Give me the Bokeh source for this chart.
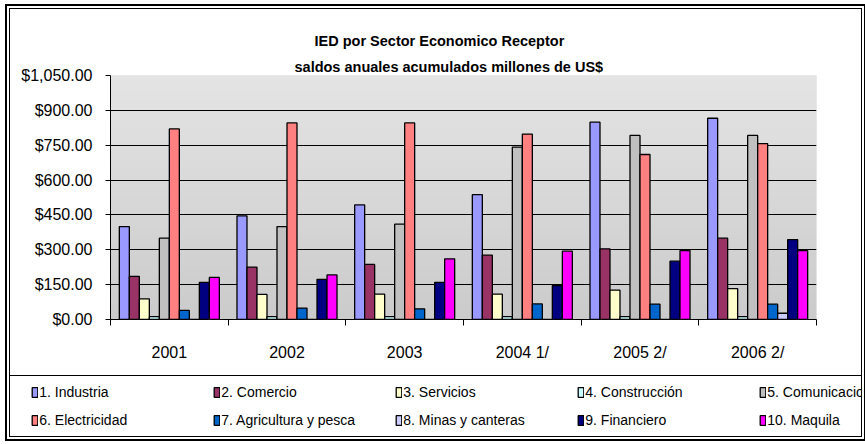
import numpy as np
from bokeh.plotting import figure
from bokeh.layouts import column
from bokeh.models import (ColumnDataSource, Range1d, FixedTicker, NumeralTickFormatter,
                          Grid, Legend, LegendItem, Title)
from bokeh.embed import file_html
from bokeh.resources import INLINE

years = ["2001", "2002", "2003", "2004 1/", "2005 2/", "2006 2/"]
sectors = ["1. Industria", "2. Comercio", "3. Servicios", "4. Construcción",
           "5. Comunicaciones", "6. Electricidad", "7. Agricultura y pesca",
           "8. Minas y canteras", "9. Financiero", "10. Maquila"]
colors = ["#9999FF", "#993366", "#FFFFCC", "#CCFFFF", "#C0C0C0",
          "#FF8080", "#0066CC", "#CCCCFF", "#000080", "#FF00FF"]

industria = [400, 446, 493, 537, 849, 866]
comercio = [186, 225, 237, 277, 304, 350]
servicios = [89, 108, 109, 109, 126, 133]
construccion = [12, 12, 12, 12, 12, 12]
comunicaciones = [350, 400, 410, 742, 792, 792]
electricidad = [820, 846, 846, 798, 710, 757]
agricultura = [39, 49, 46, 67, 66, 66]
minas = [0, 0, 0, 0, 0, 27]
financiero = [160, 173, 160, 146, 251, 344]
maquila = [181, 192, 261, 294, 297, 297]

y_ticks = [0, 150, 300, 450, 600, 750, 900, 1050]
title1 = "IED por Sector Economico Receptor"
title2 = "saldos anuales acumulados millones de US$"

series = [industria, comercio, servicios, construccion, comunicaciones,
          electricidad, agricultura, minas, financiero, maquila]

FONT = "Liberation Sans"
W, H1, H2 = 851, 366, 61
ymax = y_ticks[-1]
ng = len(years)

p = figure(width=W, height=H1, output_backend="svg", toolbar_location=None,
           x_range=Range1d(0, ng), y_range=Range1d(0, ymax),
           min_border_left=100, min_border_right=45, min_border_top=66,
           min_border_bottom=56)
p.title.visible = False
p.outline_line_color = None
p.border_fill_color = None
p.background_fill_color = "#D8D8D8"

# gradient plot-area background
n = 128
grad = np.zeros((n, 1), dtype=np.uint32)
view = grad.view(dtype=np.uint8).reshape((n, 1, 4))
for k in range(n):
    t = k / (n - 1)
    c = int(round(0xCB + (0xE4 - 0xCB) * t))
    view[k, 0, :] = [c, c, c, 255]
p.image_rgba(image=[grad], x=0, y=0, dw=ng, dh=ymax, level="image")

# legend strip figure
leg = figure(width=W, height=H2, output_backend="svg", toolbar_location=None,
             x_range=Range1d(0, ng), y_range=Range1d(0, ymax),
             x_axis_location=None, y_axis_location=None, min_border=0)
leg.frame_align = False
leg.title.visible = False
leg.outline_line_color = None
leg.border_fill_color = None
leg.background_fill_color = None
leg.xgrid.visible = False
leg.ygrid.visible = False

bw = 0.085
items = []
for j, (name, vals, col) in enumerate(zip(sectors, series, colors)):
    xs = [i + 0.5 + (j - (len(sectors) - 1) / 2) * bw for i in range(ng)]
    src = ColumnDataSource(dict(x=xs, top=vals))
    p.vbar(x="x", top="top", bottom=0, width=bw, source=src,
           fill_color=col, line_color="black", line_width=1.3)
    lr = leg.vbar(x="x", top="top", bottom=0, width=bw, source=src,
                  fill_color=col, line_color="black", line_width=1.3,
                  visible=False)
    items.append(LegendItem(label=name, renderers=[lr]))

# x axis
p.xaxis.ticker = FixedTicker(ticks=[i + 0.5 for i in range(ng)],
                             minor_ticks=list(range(ng + 1)))
p.xaxis.major_label_overrides = {i + 0.5: y for i, y in enumerate(years)}
p.xaxis.major_tick_line_color = None
p.xaxis.major_tick_out = 0
p.xaxis.major_tick_in = 0
p.xaxis.minor_tick_out = 6
p.xaxis.minor_tick_in = 0
p.xaxis.minor_tick_line_color = "black"
p.xaxis.axis_line_color = "black"
p.xaxis.major_label_standoff = 18
p.xaxis.major_label_text_font = FONT
p.xaxis.major_label_text_font_size = "16px"
p.xaxis.major_label_text_font_style = "normal"
p.xaxis.major_label_text_color = "black"
p.xgrid.visible = False

# y axis
p.yaxis.ticker = FixedTicker(ticks=y_ticks)
p.yaxis.formatter = NumeralTickFormatter(format="$0,0.00")
p.yaxis.major_tick_out = 5
p.yaxis.major_tick_in = 0
p.yaxis.major_tick_line_color = "black"
p.yaxis.minor_tick_line_color = None
p.yaxis.axis_line_color = "black"
p.yaxis.major_label_standoff = 13
p.yaxis.major_label_text_font = FONT
p.yaxis.major_label_text_font_size = "16px"
p.yaxis.major_label_text_color = "black"
p.ygrid.ticker = FixedTicker(ticks=y_ticks[1:-1])
p.ygrid.grid_line_color = "black"
p.ygrid.grid_line_width = 1
p.add_layout(Grid(dimension=1, ticker=FixedTicker(ticks=[ymax]),
                  grid_line_color="#808080", grid_line_width=1))

# titles (added nearest-first)
p.add_layout(Title(text=title2, align="left", offset=184, standoff=2,
                   text_font=FONT, text_font_style="bold",
                   text_font_size="14.5px", text_color="black"), "above")
p.add_layout(Title(text=title1, align="left", offset=204, standoff=14,
                   text_font=FONT, text_font_style="bold",
                   text_font_size="14.5px", text_color="black"), "above")

# legend
legend = Legend(items=items, location=(21.3, 7), orientation="horizontal",
                ncols=5, padding=4, spacing=10, margin=0,
                glyph_width=7, glyph_height=12, label_height=18,
                label_width=164, label_standoff=1,
                border_line_color=None, background_fill_alpha=0,
                inactive_fill_alpha=0,
                label_text_font=FONT, label_text_font_size="14px",
                label_text_color="black")
leg.add_layout(legend, "center")

inner = column(p, leg, spacing=0)
inner.margin = (8, 0, 0, 9)
inner.styles = {
    "border": "1px solid black",
    "outline": "2px solid black",
    "outline-offset": "2px",
    "background-color": "white",
    "background-image": "linear-gradient(#000000, #000000)",
    "background-size": "100% 1px",
    "background-position": "0px %dpx" % H1,
    "background-repeat": "no-repeat",
}
outer = column(inner, spacing=0)

open("out.html", "w").write(file_html(outer, INLINE))
